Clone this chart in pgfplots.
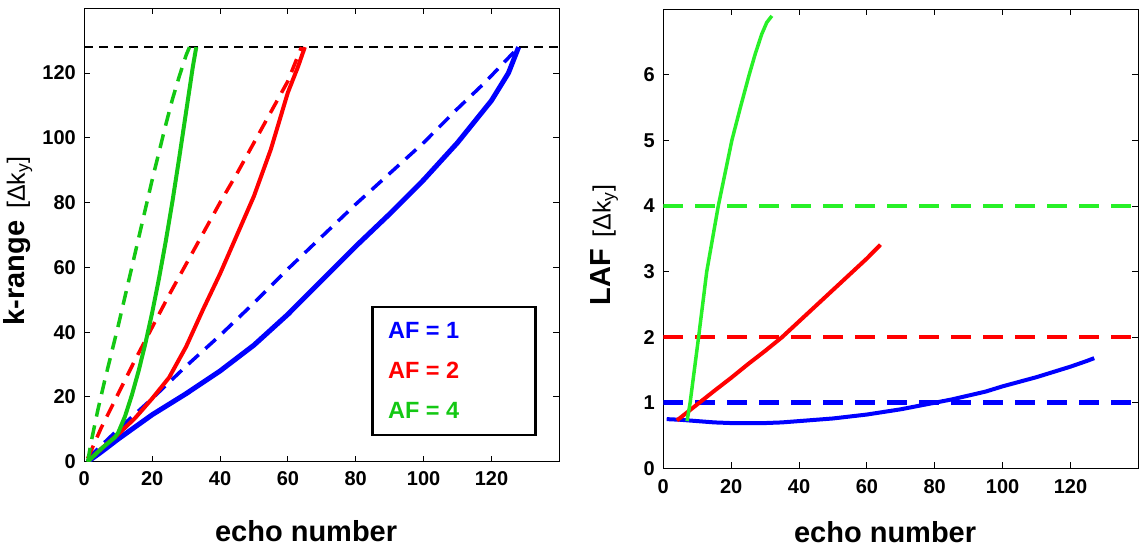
\documentclass[border=0pt]{standalone}
\usepackage{fontspec}
\setmainfont{Liberation Sans}
\usepackage{pgfplots}
\pgfplotsset{compat=1.18}
\definecolor{afblue}{RGB}{0,0,255}
\definecolor{afred}{RGB}{255,0,0}
\definecolor{afgreenL}{RGB}{20,200,20}
\definecolor{afgreenR}{RGB}{40,240,40}

\pgfplotsset{panel/.style={
  scale only axis, width=475pt,
  xmin=0, xmax=140, xtick={0,20,...,120},
  tick align=inside, tick pos=both, major tick length=6pt,
  axis line style={line width=1.3pt},
  every tick/.style={black, line width=1pt},
  /pgf/number format/assume math mode=true,
  ticklabel style={font=\fontsize{20}{22}\selectfont\bfseries},
  yticklabel style={xshift=-5pt},
  xlabel={echo number},
  xlabel style={font=\fontsize{29}{32}\selectfont\bfseries,
    at={(axis description cs:0.467,0)}, anchor=base},
}}

\begin{document}
\begin{tikzpicture}
\path (0,0) rectangle (1139pt,549pt);

% left panel: k-range
\begin{axis}[panel, at={(84.3pt,87.3pt)}, anchor=south west,
  height=453.4pt, ymin=0, ymax=140, ytick={0,20,...,120},
  xticklabel style={yshift=-6pt},
  xlabel style={yshift=-80pt},
  ylabel={{\fontsize{29}{32}\selectfont\bfseries k-range}\hspace{12pt}{\fontsize{25}{27}\selectfont [Δk\textsubscript{y}]}},
  ylabel style={at={(axis description cs:-0.125,0.487)}, anchor=base, rotate=0}]
\addplot[black, line width=2.5pt, dash pattern=on 9pt off 6pt] coordinates {(0,128) (140,128)};
% AF = 1
\addplot[afblue, line width=3.5pt, dash pattern=on 14pt off 9pt] coordinates {
(1,1) (10,10) (20,19.5) (30,29.5) (40,39) (50,49) (60,59.5) (70,69.5) (80,79.5) (90,89) (100,98.5) (110,109) (118,117) (128,128)};
\addplot[afblue, line width=5pt] coordinates {
(1,0) (5,3) (10,7) (20,14.5) (30,21) (40,28) (50,36) (60,45.5) (70,56) (80,66.5) (90,76.5) (100,87) (110,98.5) (120,111.5) (125,120) (128,128)};
% AF = 2
\addplot[afred, line width=3.5pt, dash pattern=on 14pt off 9pt] coordinates {
(1,1) (5,10.5) (10,21) (15,31.5) (20,41.5) (25,51.5) (30,61) (35,70.5) (40,80) (45,89) (50,98.5) (55,108) (60,117.5) (64,128)};
\addplot[afred, line width=4pt] coordinates {
(1,0) (5,4) (10,8.5) (15,13.5) (20,19.5) (25,26) (30,35.5) (35,47) (40,58) (45,70) (50,82) (55,96.5) (60,114) (63,122) (65,128)};
% AF = 4
\addplot[afgreenL, line width=3.5pt, dash pattern=on 14pt off 9pt] coordinates {
(1,0) (2,6) (4,16) (6,25) (8,33.5) (10,42) (12,51) (14,60) (16,69) (18,78) (20,87) (22,95.5) (24,104) (26,112) (28,119) (30,125.5) (31,128)};
\addplot[afgreenL, line width=4pt] coordinates {
(1,0) (5,4) (9,7.5) (10,9) (12,14) (14,20.5) (16,28) (18,36.5) (20,46) (22,56.5) (24,68) (26,80.5) (28,94) (30,108) (32,122) (33,128)};
% legend box
\draw[line width=2.5pt] (axis cs:85,8.3) rectangle (axis cs:133,47.8);
\node[anchor=west, text=afblue, font=\fontsize{23.5}{25}\selectfont\bfseries] at (axis cs:88.5,40.5) {AF = 1};
\node[anchor=west, text=afred, font=\fontsize{23.5}{25}\selectfont\bfseries] at (axis cs:88.5,28.3) {AF = 2};
\node[anchor=west, text=afgreenL, font=\fontsize{23.5}{25}\selectfont\bfseries] at (axis cs:88.5,15.7) {AF = 4};
\end{axis}

% right panel: LAF
\begin{axis}[panel, at={(663.3pt,80.7pt)}, anchor=south west,
  height=459pt, ymin=0, ymax=7, ytick={0,1,...,6},
  xticklabel style={yshift=-8pt},
  xlabel style={yshift=-74pt},
  ylabel={{\fontsize{29}{32}\selectfont\bfseries LAF}\hspace{12pt}{\fontsize{25}{27}\selectfont [Δk\textsubscript{y}]}},
  ylabel style={at={(axis description cs:-0.111,0.486)}, anchor=base, rotate=0}]
\addplot[afgreenR, line width=4.5pt, dash pattern=on 20pt off 12pt] coordinates {(0,4) (140,4)};
\addplot[afred, line width=4.5pt, dash pattern=on 20pt off 12pt] coordinates {(0,2) (140,2)};
\addplot[afblue, line width=4.5pt, dash pattern=on 20pt off 12pt] coordinates {(0,1) (140,1)};
\addplot[afblue, line width=4pt] coordinates {
(1,0.75) (5,0.74) (10,0.72) (15,0.70) (20,0.69) (25,0.69) (30,0.69) (35,0.70) (40,0.72) (45,0.74) (50,0.76) (55,0.79) (60,0.82) (65,0.86) (70,0.90) (75,0.95) (80,1.0) (85,1.05) (90,1.11) (95,1.17) (100,1.25) (105,1.32) (110,1.39) (115,1.47) (120,1.55) (125,1.64) (127,1.68)};
\addplot[afred, line width=4pt] coordinates {
(4,0.73) (5,0.77) (10,0.975) (15,1.18) (20,1.38) (25,1.59) (30,1.79) (35,2.0) (40,2.24) (45,2.48) (50,2.72) (55,2.96) (60,3.2) (64,3.41)};
\addplot[afgreenR, line width=3.5pt] coordinates {
(7,0.72) (7.9,1.0) (10.4,2.0) (12.8,3.0) (14.5,3.5) (16.2,4.0) (18.2,4.5) (20.2,5.0) (22.7,5.5) (25.3,6.0) (27.1,6.32) (29,6.62) (30.5,6.8) (32,6.9)};
\end{axis}
\end{tikzpicture}
\end{document}
